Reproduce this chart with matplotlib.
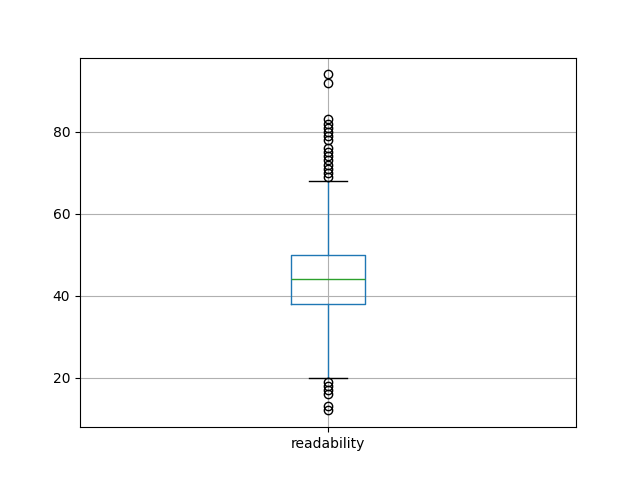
import matplotlib
matplotlib.use("Agg")
import matplotlib.pyplot as plt

label = "readability"
median = 44
q1 = 38
q3 = 50
whisker_low = 20
whisker_high = 68
fliers = [94, 92, 83, 82, 81, 80, 79, 78, 76, 75, 74, 73, 72, 71, 70, 69,
          19, 18, 17, 16, 13, 12]

stats = [dict(label=label, med=median, q1=q1, q3=q3,
              whislo=whisker_low, whishi=whisker_high, fliers=fliers)]

fig, ax = plt.subplots(figsize=(6.4, 4.8), dpi=100)
ax.bxp(stats,
       boxprops=dict(color="#1f77b4"),
       whiskerprops=dict(color="#1f77b4"),
       medianprops=dict(color="#2ca02c"),
       capprops=dict(color="k"),
       flierprops=dict(marker="o", markeredgecolor="k", markerfacecolor="none"))
ax.grid(True)
fig.savefig("out.png", dpi=100)
